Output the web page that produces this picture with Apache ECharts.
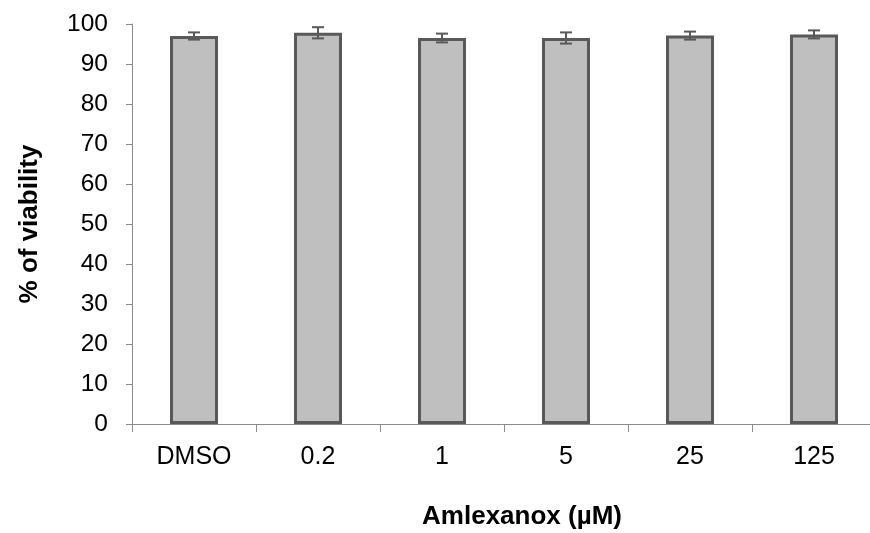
<!DOCTYPE html>
<html><head><meta charset="utf-8">
<script src="https://cdn.jsdelivr.net/npm/echarts@6/dist/echarts.min.js"></script>
<style>html,body{margin:0;padding:0;background:#fff}#c{width:870px;height:533px}</style>
</head><body><div id="c"></div>
<script>
const categories = ['DMSO', '0.2', '1', '5', '25', '125'];
const viability = [97.0, 97.8, 96.5, 96.5, 97.1, 97.4];
const errors = [0.9, 1.4, 1.1, 1.4, 1.0, 1.0];
const yTicks = [0, 10, 20, 30, 40, 50, 60, 70, 80, 90, 100];

const chart = echarts.init(document.getElementById('c'));
const font = 'Liberation Sans, Arial, sans-serif';
chart.setOption({
  animation: false,
  grid: { left: 132, right: -6, top: 24, bottom: 109, containLabel: false, outerBoundsMode: 'none' },
  xAxis: {
    type: 'category', data: categories,
    name: 'Amlexanox (µM)', nameLocation: 'middle', nameGap: 80,
    nameTextStyle: { fontFamily: font, fontSize: 26, fontWeight: 'bold', color: '#000', padding: [0, 0, 0, 36] },
    axisLine: { lineStyle: { color: '#8c8c8c', width: 1 } },
    axisTick: { show: true, length: 8, lineStyle: { color: '#8c8c8c' } },
    axisLabel: { fontFamily: font, fontSize: 25, color: '#000', margin: 21 }
  },
  yAxis: {
    type: 'value', min: yTicks[0], max: yTicks[yTicks.length - 1], interval: 10,
    name: '% of viability', nameLocation: 'middle', nameGap: 89,
    nameTextStyle: { fontFamily: font, fontSize: 26, fontWeight: 'bold', color: '#000' },
    axisLine: { show: true, lineStyle: { color: '#8c8c8c', width: 1 } },
    axisTick: { show: true, length: 6, lineStyle: { color: '#8c8c8c' } },
    axisLabel: { fontFamily: font, fontSize: 24.5, color: '#000', margin: 24 },
    splitLine: { show: false }
  },
  series: [
    {
      type: 'bar', data: viability, barWidth: 48,
      itemStyle: { color: '#bfbfbf', borderColor: '#595959', borderWidth: 3 }
    },
    {
      type: 'custom',
      data: viability.map((v, i) => [i, v - errors[i], v + errors[i]]),
      renderItem: function (params, api) {
        const lo = api.coord([api.value(0), api.value(1)]);
        const hi = api.coord([api.value(0), api.value(2)]);
        const hw = 6;
        const st = { stroke: '#595959', lineWidth: 2 };
        return { type: 'group', children: [
          { type: 'line', shape: { x1: lo[0], y1: lo[1], x2: hi[0], y2: hi[1] }, style: st },
          { type: 'line', shape: { x1: lo[0] - hw, y1: lo[1], x2: lo[0] + hw, y2: lo[1] }, style: st },
          { type: 'line', shape: { x1: hi[0] - hw, y1: hi[1], x2: hi[0] + hw, y2: hi[1] }, style: st }
        ]};
      },
      z: 10
    }
  ]
});
</script></body></html>
